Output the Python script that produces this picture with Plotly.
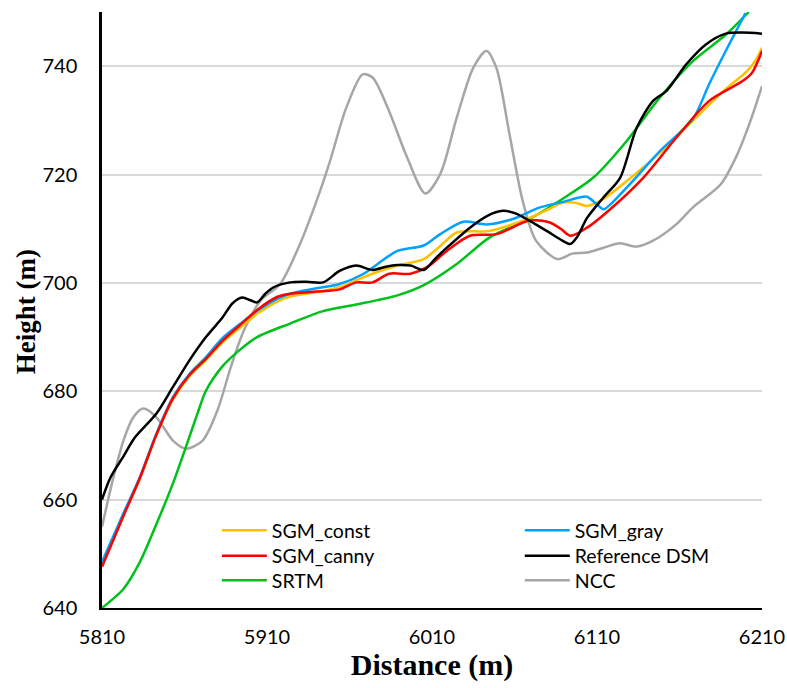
import plotly.graph_objects as go

# ---- data ----
ref_x = [5810, 5815, 5823, 5830, 5843, 5853, 5863, 5873, 5883, 5889, 5895, 5900, 5904, 5909, 5914, 5924,
         5934, 5944, 5954, 5964, 5974, 5982, 5989, 5997, 6005, 6012, 6019, 6033, 6043, 6053, 6061, 6069,
         6080, 6089, 6094, 6098, 6104, 6114, 6124, 6134, 6144, 6152, 6164, 6176, 6188, 6198, 6210]
ref_y = [660, 664, 668, 671.5, 675.9, 680.8, 685.7, 690, 693.6, 696.2, 697.3, 696.8, 696.4, 698, 699.2, 700.1,
         700.2, 700.1, 702.2, 703.2, 702.4, 703, 703.3, 703.2, 702.4, 704.5, 706.5, 710.2, 712.3, 713.3, 712.8, 711.5,
         709.5, 707.8, 707.2, 708.5, 712, 715.8, 719.4, 728.6, 733.6, 735.4, 740.3, 744, 746, 746.2, 746]

srtm_x = [5810, 5816, 5823, 5833, 5843, 5853, 5863, 5868, 5873, 5883, 5893, 5904, 5924, 5944, 5964, 5989,
          6005, 6025, 6045, 6069, 6089, 6108, 6128, 6148, 6168, 6188, 6202]
srtm_y = [640, 641.5, 643.5, 648.5, 655.5, 663, 671.6, 676, 680.1, 684.6, 687.5, 690, 692.5, 694.8, 696, 697.7,
          699.6, 703.5, 708.4, 711.8, 715.5, 719.5, 726.2, 734.2, 740.9, 745.8, 750]

gray_x = [5810, 5823, 5833, 5843, 5853, 5863, 5873, 5883, 5894, 5904, 5916, 5924, 5940, 5954, 5968, 5989,
          6005, 6015, 6029, 6043, 6059, 6075, 6090, 6100, 6104, 6110, 6114, 6128, 6148, 6168, 6178, 6188, 6200]
gray_y = [648.5, 657.5, 664.2, 672.2, 678.9, 683.2, 686.3, 689.8, 692.5, 694.8, 697, 698, 699, 699.8, 701.6, 705.9,
          706.9, 709, 711.3, 710.8, 711.8, 713.9, 715, 715.8, 715.9, 714.5, 713.6, 717.6, 724.3, 730.2, 736.7, 742.8, 749.8]

const_x = [5810, 5823, 5833, 5843, 5853, 5863, 5873, 5883, 5894, 5904, 5916, 5924, 5940, 5954, 5968, 5989,
           6005, 6015, 6025, 6045, 6065, 6080, 6089, 6097, 6104, 6114, 6128, 6148, 6168, 6188, 6200, 6206, 6210]
const_y = [648, 657.3, 664, 672, 678.5, 682.8, 685.8, 689, 691.8, 694.3, 696.5, 697.5, 698.3, 699.2, 701, 703.2,
           704.4, 706.8, 709.3, 709.6, 711.5, 713.5, 714.8, 714.8, 714.2, 715.5, 718.8, 724, 729.9, 735.8, 738.8, 741, 743.4]

canny_x = [5810, 5823, 5833, 5843, 5853, 5863, 5873, 5883, 5894, 5904, 5916, 5924, 5940, 5954, 5964, 5974,
           5984, 5997, 6007, 6019, 6033, 6049, 6069, 6081, 6088, 6094, 6104, 6118, 6138, 6158, 6178, 6198, 6204, 6210]
canny_y = [647.6, 657, 664, 672, 678.7, 683, 686, 689.3, 692.3, 695, 697.4, 698, 698.4, 698.8, 700.1, 700.1,
           701.7, 701.7, 702.9, 705.9, 708.7, 709, 711.5, 711.2, 710, 708.7, 710.2, 713.6, 719.4, 726.8, 733.6, 737.2, 738.8, 742.8]

ncc_x = [5810, 5817, 5823, 5829, 5835, 5843, 5853, 5861, 5871, 5880, 5888, 5896, 5906, 5918, 5930, 5940,
         5948, 5958, 5968, 5974, 5984, 5995, 6006, 6015, 6025, 6035, 6043, 6049, 6057, 6065, 6073, 6086,
         6095, 6104, 6114, 6124, 6134, 6144, 6158, 6168, 6185, 6195, 6203, 6210]
ncc_y = [655, 664.2, 670.9, 675.2, 676.8, 675.2, 670.9, 669.4, 670.9, 676.5, 684.4, 691.2, 696.7, 699.8, 707.2, 715.1,
         722.3, 732.3, 738.5, 737.9, 731.7, 723.1, 716.5, 720.1, 730.5, 739.7, 742.8, 739.7, 727.4, 715.1, 707.8, 704.4,
         705.4, 705.6, 706.5, 707.3, 706.7, 707.8, 710.8, 713.9, 718.2, 723.7, 729.9, 736.3]

x_ticks = [5810, 5910, 6010, 6110, 6210]
y_ticks = [640, 660, 680, 700, 720, 740]

# (name, x, y, colour, legend column, legend row)
series = [
    ("SGM_const", const_x, const_y, "#FFC000", 0, 0),
    ("SGM_gray", gray_x, gray_y, "#00A2FF", 1, 0),
    ("SGM_canny", canny_x, canny_y, "#FF0000", 0, 1),
    ("Reference DSM", ref_x, ref_y, "#000000", 1, 1),
    ("SRTM", srtm_x, srtm_y, "#00C01C", 0, 2),
    ("NCC", ncc_x, ncc_y, "#A6A6A6", 1, 2),
]

draw_order = ["NCC", "SRTM", "SGM_const", "SGM_gray", "SGM_canny", "Reference DSM"]

col_x = [0.174, 0.633]
row_y = [0.130, 0.087, 0.046]

fig = go.Figure()
legends = {}
for name in draw_order:
    s = next(t for t in series if t[0] == name)
    idx = series.index(s) + 1
    lname = "legend" if idx == 1 else f"legend{idx}"
    fig.add_trace(go.Scatter(
        x=s[1], y=s[2], name=s[0], mode="lines",
        line=dict(color=s[3], width=2.5, shape="spline", smoothing=0.8),
        legend=lname,
    ))
    legends[lname] = dict(
        x=col_x[s[4]], y=row_y[s[5]], orientation="v", yanchor="middle", xanchor="left",
        itemwidth=45, font=dict(family="Lato", size=19.5, color="#000"),
        bgcolor="rgba(255,255,255,0)",
    )

fig.update_layout(
    width=787, height=688,
    margin=dict(l=102, r=25, t=12, b=80),
    plot_bgcolor="white", paper_bgcolor="white",
    showlegend=True,
    font=dict(family="Lato", size=20, color="#000"),
    **legends,
)

fig.add_annotation(
    text="<b>Height (m)</b>", xref="paper", yref="paper", x=-0.1152, y=0.498,
    xanchor="center", yanchor="middle", textangle=-90, showarrow=False,
    font=dict(family="Liberation Serif", size=27, color="#000"),
)

fig.update_xaxes(
    range=[5810, 6210], tickvals=x_ticks, ticktext=[str(v) for v in x_ticks],
    showgrid=False, zeroline=False, showline=True, linecolor="#000", linewidth=2,
    ticks="", ticklabelstandoff=10, automargin=False,
    tickfont=dict(family="Lato", size=20),
    title=dict(text="<b>Distance (m)</b>", font=dict(family="Liberation Serif", size=30, color="#000"), standoff=2),
)
fig.update_yaxes(
    range=[640, 750], tickvals=y_ticks, ticktext=[str(v) for v in y_ticks],
    showgrid=True, gridcolor="#D9D9D9", gridwidth=1.5, zeroline=False,
    showline=True, linecolor="#000", linewidth=2.5,
    ticks="", ticklabelstandoff=18, automargin=False,
    tickfont=dict(family="Lato", size=20),
)

fig.write_html("out.html")
